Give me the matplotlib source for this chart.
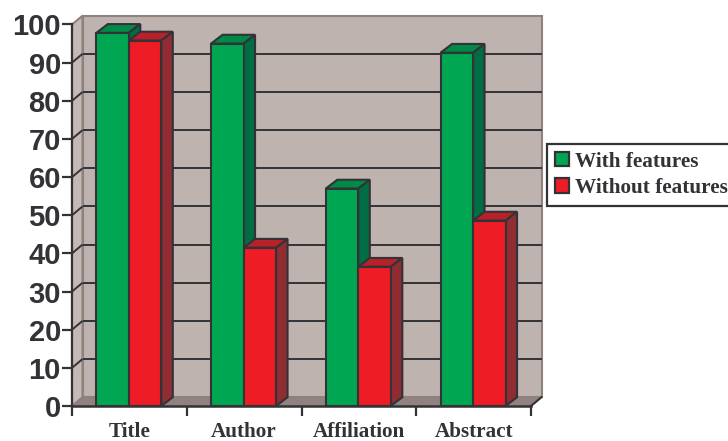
import matplotlib
matplotlib.use('Agg')
import matplotlib.pyplot as plt
from matplotlib.patches import Polygon, Patch
import numpy as np

categories = ['Title', 'Author', 'Affiliation', 'Abstract']
with_features = [97.8, 95.0, 57, 92.6]
without_features = [95.8, 41.5, 36.5, 48.6]
y_ticks = list(range(0, 101, 10))

W, H = 728, 441
DARK = '#333236'
WALL = '#bfb3b0'
WALL_EDGE = '#8e817e'
FLOOR = '#8f8280'

# axis box in pixels
left, right, bottom, top = 72, 531, 406, 24.5
depth_x = 10.5 / ((right - left) / 4)
depth_y = 8.8 / ((bottom - top) / 100)
bar_w = 32.5 / ((right - left) / 4)
bar_dx = 11.5 / ((right - left) / 4)

fig = plt.figure(figsize=(W / 100, H / 100), dpi=100)
ax = fig.add_axes([left / W, 1 - bottom / H, (right - left) / W, (bottom - top) / H])
ax.set_xlim(0, 4)
ax.set_ylim(0, 100)
for s in ax.spines.values():
    s.set_visible(False)
ax.patch.set_visible(False)


def poly(pts, fc, ec=DARK, lw=1.5, z=2):
    ax.add_patch(Polygon(pts, closed=True, fc=fc, ec=ec, lw=lw, zorder=z, clip_on=False, joinstyle='miter'))


# back wall, side wall, floor
poly([(depth_x, depth_y), (4 + depth_x, depth_y), (4 + depth_x, 100 + depth_y), (depth_x, 100 + depth_y)], WALL, WALL_EDGE, 1.5, 1)
poly([(0, 0), (depth_x, depth_y), (depth_x, 100 + depth_y), (0, 100)], '#c4b9b6', WALL_EDGE, 1.5, 1)
poly([(0, 0), (4, 0), (4 + depth_x, depth_y), (depth_x, depth_y)], FLOOR, WALL_EDGE, 1, 1)

# gridlines on the wall and the side wall
for t in y_ticks[1:-1]:
    ax.plot([depth_x, 4 + depth_x], [t + depth_y, t + depth_y], color=DARK, lw=1.4, zorder=1.5, clip_on=False, solid_capstyle='butt')
    ax.plot([0, depth_x], [t, t + depth_y], color=DARK, lw=1.4, zorder=1.5, clip_on=False, solid_capstyle='butt')


def bar3d(x, v, front, topc, side, z):
    poly([(x, v), (x + bar_w, v), (x + bar_w + bar_dx, v + depth_y), (x + bar_dx, v + depth_y)], topc, z=z)
    poly([(x + bar_w, 0), (x + bar_w + bar_dx, depth_y), (x + bar_w + bar_dx, v + depth_y), (x + bar_w, v)], side, z=z)
    ax.bar(x, v, bar_w, align='edge', color=front, edgecolor=DARK, lw=1.5, zorder=z + 0.1, clip_on=False)


for i in range(len(categories)):
    x0 = i + 0.5 - bar_w - 0.005
    bar3d(x0, with_features[i], '#00a651', '#008a48', '#006e45', 3 + i)
    bar3d(x0 + bar_w, without_features[i], '#ee1c25', '#b8212a', '#902d33', 3.5 + i)

# axis lines on top
ax.plot([0, 0], [0, 100], color=DARK, lw=1.6, zorder=20, clip_on=False)
ax.plot([0, 4], [0, 0], color=DARK, lw=1.8, zorder=20, clip_on=False)
ax.plot([4, 4 + depth_x], [0, depth_y], color=DARK, lw=1.5, zorder=20, clip_on=False)

ax.set_yticks(y_ticks)
ax.set_yticklabels([str(t) for t in y_ticks], fontfamily='Liberation Sans', fontweight='bold', fontsize=21, color=DARK)
ax.set_xticks(np.arange(5))
ax.set_xticklabels([])
ax.tick_params(axis='y', length=7, width=1.6, color=DARK, pad=1)
ax.tick_params(axis='x', length=7, width=1.6, color=DARK)

for i, c in enumerate(categories):
    ax.annotate(c, (i + 0.5, 0), xytext=(0, -11.5), textcoords='offset points', ha='center', va='top',
                fontfamily='Liberation Serif', fontweight='bold', fontsize=15.2, color=DARK, annotation_clip=False)

handles = [Patch(fc='#00a651', ec=DARK, lw=1.6, label='With features'),
           Patch(fc='#ee1c25', ec=DARK, lw=1.6, label='Without features')]
leg = fig.legend(handles=handles, loc='upper left', bbox_to_anchor=(547 / W, 1 - 144 / H),
                 bbox_transform=fig.transFigure, borderaxespad=0, fancybox=False, framealpha=1,
                 edgecolor=DARK, handlelength=0.66, handleheight=0.66, handletextpad=0.3, labelspacing=0.3,
                 borderpad=0.36,
                 prop={'family': 'Liberation Serif', 'weight': 'bold', 'size': 15.3})
leg.get_frame().set_linewidth(1.6)
for t in leg.get_texts():
    t.set_color(DARK)

fig.savefig('out.png', dpi=100, facecolor='white')
